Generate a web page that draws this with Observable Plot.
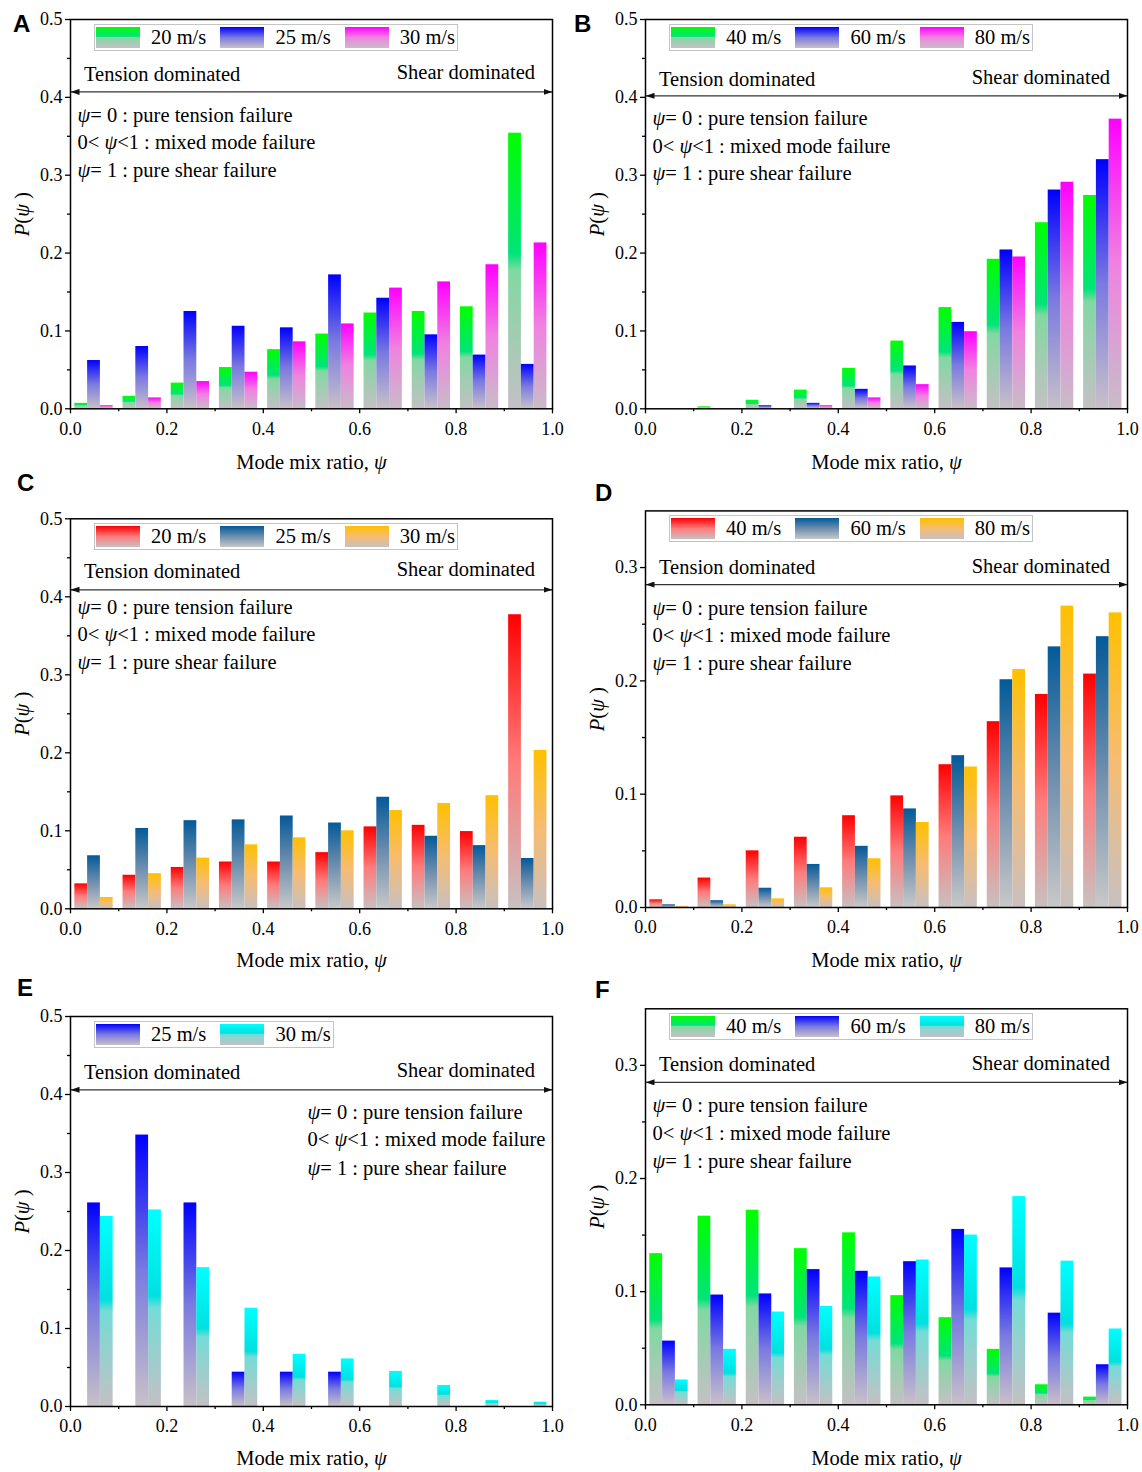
<!DOCTYPE html>
<html><head><meta charset="utf-8">
<script src="https://cdn.jsdelivr.net/npm/d3@7"></script>
<script src="https://cdn.jsdelivr.net/npm/@observablehq/plot@0.6"></script>
<style>
html,body{margin:0;padding:0;background:#fff;}
#root{position:relative;width:1142px;height:1472px;overflow:hidden;font-family:"Liberation Serif","Times New Roman",serif;color:#000;}
.panel{position:absolute;}
.letter{position:absolute;font-family:"Liberation Sans",Arial,sans-serif;font-weight:bold;font-size:24px;line-height:1;}
.legend{position:absolute;box-sizing:border-box;height:27px;border:1.5px solid #c4c4c4;display:flex;align-items:center;padding-left:1px;background:#fff;}
.item{display:flex;align-items:center;flex:none;}
.sw{width:44px;height:21px;flex:none;}
.lt{margin-left:11px;font-size:20.5px;white-space:nowrap;line-height:1;}
</style></head><body><div id="root"></div>
<script>
// ---------- data ----------
const binStarts = [0, 0.1, 0.2, 0.3, 0.4, 0.5, 0.6, 0.7, 0.8, 0.9];

// Panel A
const A_20 = [0.007, 0.016, 0.033, 0.053, 0.076, 0.096, 0.123, 0.125, 0.131, 0.354];
const A_25 = [0.062, 0.080, 0.125, 0.106, 0.104, 0.172, 0.142, 0.095, 0.069, 0.057];
const A_30 = [0.004, 0.014, 0.035, 0.047, 0.086, 0.109, 0.155, 0.163, 0.185, 0.213];
// Panel B
const B_40 = [0.000, 0.0026, 0.011, 0.024, 0.052, 0.087, 0.130, 0.192, 0.239, 0.274];
const B_60 = [0.000, 0.000, 0.004, 0.007, 0.025, 0.055, 0.111, 0.204, 0.281, 0.320];
const B_80 = [0.000, 0.000, 0.000, 0.004, 0.014, 0.031, 0.099, 0.195, 0.291, 0.372];
// Panel C
const C_20 = [0.032, 0.043, 0.053, 0.060, 0.060, 0.072, 0.105, 0.107, 0.099, 0.377];
const C_25 = [0.068, 0.103, 0.113, 0.114, 0.119, 0.110, 0.143, 0.093, 0.081, 0.0645];
const C_30 = [0.0145, 0.045, 0.065, 0.082, 0.091, 0.100, 0.126, 0.135, 0.145, 0.203];
// Panel D
const D_40 = [0.0068, 0.026, 0.050, 0.062, 0.081, 0.0985, 0.126, 0.164, 0.188, 0.206];
const D_60 = [0.0024, 0.006, 0.017, 0.038, 0.054, 0.087, 0.134, 0.201, 0.230, 0.239];
const D_80 = [0.001, 0.0024, 0.0076, 0.0174, 0.043, 0.075, 0.124, 0.210, 0.266, 0.260];
// Panel E
const E_25 = [0.261, 0.348, 0.261, 0.044, 0.044, 0.044, 0.000, 0.000, 0.000, 0.000];
const E_30 = [0.2436, 0.252, 0.178, 0.126, 0.067, 0.061, 0.045, 0.027, 0.0077, 0.0056];
// Panel F
const F_40 = [0.1336, 0.1667, 0.172, 0.138, 0.152, 0.0965, 0.077, 0.049, 0.0177, 0.0068];
const F_60 = [0.0563, 0.097, 0.098, 0.1195, 0.118, 0.1265, 0.155, 0.121, 0.081, 0.0354];
const F_80 = [0.022, 0.049, 0.082, 0.087, 0.113, 0.128, 0.150, 0.184, 0.127, 0.067];

const xTicks = [0, 0.2, 0.4, 0.6, 0.8, 1.0];
const xMinor = [0.1, 0.3, 0.5, 0.7, 0.9];
const yTicks5 = [0, 0.1, 0.2, 0.3, 0.4, 0.5];
const yMinor5 = [0.05, 0.15, 0.25, 0.35, 0.45];
const yTicks35 = [0, 0.1, 0.2, 0.3];
const yMinor35 = [0.05, 0.15, 0.25];

const annLines = ["_ψ_= 0 : pure tension failure", "0< _ψ_<1 : mixed mode failure", "_ψ_= 1 : pure shear failure"];

// ---------- styles ----------
const gradients = {
  green:   [[0, "#00ff00"], [0.44, "#00e47a"], [0.5, "#82d8a2"], [1, "#c4c0c4"]],
  blue:    [[0, "#0000ff"], [0.5, "#7a7ae0"], [1, "#c8c0c8"]],
  magenta: [[0, "#ff00ff"], [0.5, "#f082e0"], [1, "#c8bcc8"]],
  red:     [[0, "#ff0000"], [0.5, "#ff7a7a"], [1, "#c8c0c0"]],
  navy:    [[0, "#035a99"], [0.5, "#6e8eae"], [1, "#c8c8c8"]],
  orange:  [[0, "#ffc000"], [0.5, "#f6bc72"], [1, "#c8c0c0"]],
  cyan:    [[0, "#00ffff"], [0.44, "#00e0e0"], [0.5, "#74dcd6"], [1, "#c4c0c4"]]
};

const groupOffset = 0.009, barWidth = 0.0265;
const FS = 20.5;

const panels = [
  {id:"A", letter:[13,12], svg:[0,0,571,480], frame:[70,552,19,408.3], ymax:0.5, yT:yTicks5, yM:yMinor5,
   series:[["20 m/s",A_20,"green",0],["25 m/s",A_25,"blue",1],["30 m/s",A_30,"magenta",2]],
   arrowY:0.407, tension:55, shear:53, annDx:7, ann:[96,123,151], xlab:53.4},
  {id:"B", letter:[574,12], svg:[571,0,571,480], frame:[645,1127,19,408.3], ymax:0.5, yT:yTicks5, yM:yMinor5,
   series:[["40 m/s",B_40,"green",0],["60 m/s",B_60,"blue",1],["80 m/s",B_80,"magenta",2]],
   arrowY:0.402, tension:60, shear:58, annDx:7, ann:[99,127,154], xlab:53.4},
  {id:"C", letter:[17,471], svg:[0,480,571,495], frame:[70,552,518.3,908.3], ymax:0.5, yT:yTicks5, yM:yMinor5,
   series:[["20 m/s",C_20,"red",0],["25 m/s",C_25,"navy",1],["30 m/s",C_30,"orange",2]],
   arrowY:0.409, tension:52.5, shear:50.5, annDx:7, ann:[88.5,115.7,143.4], xlab:52},
  {id:"D", letter:[595,481], svg:[571,480,571,495], frame:[645,1127,510.4,907], ymax:0.35, yT:yTicks35, yM:yMinor35,
   series:[["40 m/s",D_40,"red",0],["60 m/s",D_60,"navy",1],["80 m/s",D_80,"orange",2]],
   arrowY:0.285, tension:57, shear:55.6, annDx:7, ann:[97.3,124.6,152.3], xlab:53},
  {id:"E", letter:[17,976], svg:[0,975,571,497], frame:[70,552,1016,1406], ymax:0.5, yT:yTicks5, yM:yMinor5,
   series:[["25 m/s",E_25,"blue",1],["30 m/s",E_30,"cyan",2]],
   arrowY:0.406, tension:55.7, shear:54, annDx:237, ann:[96.3,123.3,151.7], xlab:52.3},
  {id:"F", letter:[595,978], svg:[571,975,571,497], frame:[645,1127,1008.3,1404.3], ymax:0.35, yT:yTicks35, yM:yMinor35,
   series:[["40 m/s",F_40,"green",0],["60 m/s",F_60,"blue",1],["80 m/s",F_80,"cyan",2]],
   arrowY:0.285, tension:56, shear:54.7, annDx:7, ann:[96.7,124.4,152.4], xlab:54}
];

// ---------- shared defs ----------
const root = document.getElementById("root");
const defsSvg = d3.select(root).append("svg")
  .attr("width", 0).attr("height", 0)
  .style("position", "absolute").style("left", 0).style("top", 0);
const defs = defsSvg.append("defs");
for (const [name, stops] of Object.entries(gradients)) {
  const g = defs.append("linearGradient").attr("id", "grad-" + name)
    .attr("x1", 0).attr("y1", 0).attr("x2", 0).attr("y2", 1);
  for (const [o, c] of stops) g.append("stop").attr("offset", o).attr("stop-color", c);
}
defs.append("marker").attr("id", "ah").attr("markerUnits", "userSpaceOnUse")
  .attr("viewBox", "0 0 9 6").attr("refX", 9).attr("refY", 3)
  .attr("markerWidth", 9).attr("markerHeight", 6).attr("orient", "auto-start-reverse")
  .append("path").attr("d", "M0,0L9,3L0,6Z").attr("fill", "#111");

function cssGradient(name) {
  return "linear-gradient(to bottom, " + gradients[name].map(([o, c]) => `${c} ${o * 100}%`).join(", ") + ")";
}

function italicize(svg) {
  d3.select(svg).selectAll("text").each(function () {
    const t = this.textContent;
    if (!t.includes("_")) return;
    const parts = t.split("_");
    const sel = d3.select(this);
    sel.text(null);
    parts.forEach((s, i) => {
      if (!s) return;
      const ts = sel.append("tspan").text(s);
      if (i % 2) ts.attr("font-style", "italic");
    });
  });
}

for (const p of panels) {
  const [sx, sy, sw, sh] = p.svg;
  const [fl, fr, ft, fb] = p.frame;
  const marks = [];
  for (const [label, values, grad, slot] of p.series) {
    const rows = binStarts.map((b, i) => ({
      x1: b + groupOffset + slot * barWidth,
      x2: b + groupOffset + (slot + 1) * barWidth,
      y1: 0,
      y2: values[i]
    }));
    marks.push(Plot.rect(rows, {x1: "x1", x2: "x2", y1: "y1", y2: "y2", fill: `url(#grad-${grad})`}));
  }
  marks.push(Plot.link([{a: 0, b: 1, y: p.arrowY}], {x1: "a", x2: "b", y1: "y", y2: "y", stroke: "#333", strokeWidth: 1.2}));
  marks.push(Plot.text(["Tension dominated"], {text: d => d, frameAnchor: "top-left", dx: 13.5, dy: p.tension, textAnchor: "start", lineAnchor: "middle", fontSize: FS}));
  marks.push(Plot.text(["Shear dominated"], {text: d => d, frameAnchor: "top-right", dx: -17.5, dy: p.shear, textAnchor: "end", lineAnchor: "middle", fontSize: FS}));
  annLines.forEach((line, i) => {
    marks.push(Plot.text([line], {text: d => d, frameAnchor: "top-left", dx: p.annDx, dy: p.ann[i], textAnchor: "start", lineAnchor: "middle", fontSize: FS}));
  });
  marks.push(Plot.text(["Mode mix ratio, _ψ_"], {text: d => d, frameAnchor: "bottom", dy: p.xlab, textAnchor: "middle", lineAnchor: "middle", fontSize: FS}));
  marks.push(Plot.text(["_P_(_ψ_ )"], {text: d => d, frameAnchor: "left", dx: -48, rotate: -90, textAnchor: "middle", lineAnchor: "middle", fontSize: FS}));
  marks.push(Plot.axisX({ticks: xTicks, tickFormat: d3.format(".1f"), tickSize: 5, tickPadding: 8, label: null, strokeWidth: 1.3}));
  marks.push(Plot.axisX({ticks: xMinor, tickSize: 3, text: null, label: null, strokeWidth: 1.3}));
  marks.push(Plot.axisY({ticks: p.yT, tickFormat: d3.format(".1f"), tickSize: 5, tickPadding: 3, label: null, strokeWidth: 1.3}));
  marks.push(Plot.axisY({ticks: p.yM, tickSize: 3, text: null, label: null, strokeWidth: 1.3}));
  marks.push(Plot.frame({stroke: "#000", strokeWidth: 1.5}));

  const chart = Plot.plot({
    width: sw, height: sh,
    marginLeft: fl - sx, marginRight: sx + sw - fr,
    marginTop: ft - sy, marginBottom: sy + sh - fb,
    x: {domain: [0, 1]},
    y: {domain: [0, p.ymax]},
    style: {fontFamily: '"Liberation Serif","Times New Roman",serif', fontSize: "18px", color: "#000", background: "transparent", overflow: "visible"},
    marks
  });
  italicize(chart);
  d3.select(chart).selectAll('g[aria-label="link"] path')
    .attr("marker-start", "url(#ah)").attr("marker-end", "url(#ah)");

  const wrap = document.createElement("div");
  wrap.className = "panel";
  wrap.style.left = sx + "px"; wrap.style.top = sy + "px";
  wrap.style.width = sw + "px"; wrap.style.height = sh + "px";
  wrap.appendChild(chart);
  root.appendChild(wrap);

  // legend
  const n = p.series.length;
  const lg = document.createElement("div");
  lg.className = "legend";
  lg.style.left = (fl + 24) + "px";
  lg.style.top = (ft + 4.5) + "px";
  lg.style.width = (2.5 + (n - 1) * 124.4 + 113) + "px";
  p.series.forEach(([label, , grad], i) => {
    const it = document.createElement("div");
    it.className = "item";
    if (i < n - 1) it.style.width = "124.4px";
    const s = document.createElement("div");
    s.className = "sw";
    s.style.background = cssGradient(grad);
    const t = document.createElement("span");
    t.className = "lt";
    t.textContent = label;
    it.appendChild(s); it.appendChild(t);
    lg.appendChild(it);
  });
  root.appendChild(lg);

  const L = document.createElement("div");
  L.className = "letter";
  L.style.left = p.letter[0] + "px"; L.style.top = p.letter[1] + "px";
  L.textContent = p.id;
  root.appendChild(L);
}
</script></body></html>
